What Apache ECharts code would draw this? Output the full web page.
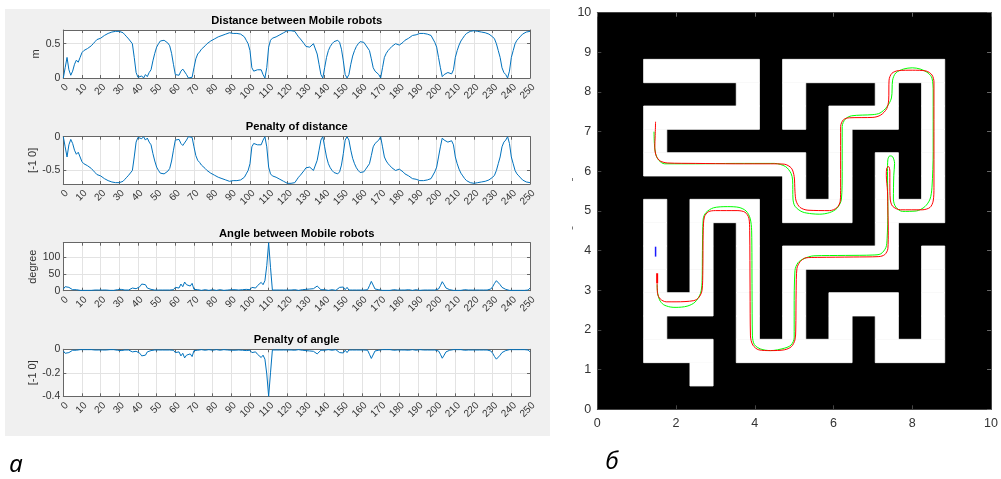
<!DOCTYPE html>
<html>
<head>
<meta charset="utf-8">
<script src="https://cdn.jsdelivr.net/npm/echarts@6/dist/echarts.min.js"></script>
<style>
html, body { margin: 0; padding: 0; background: #fff; }
#main { width: 1001px; height: 479px; }
</style>
</head>
<body>
<div id="main"></div>
<script>
// left panel: one value per step, step index 0..250
const distance = [
  0,0.15,0.30,0.12,0.04,0.10,0.20,0.26,0.23,0.30,
  0.37,0.40,0.42,0.43,0.44,0.47,0.50,0.53,0.56,0.57,
  0.58,0.60,0.62,0.63,0.65,0.66,0.67,0.68,0.68,0.69,
  0.68,0.68,0.66,0.63,0.60,0.57,0.55,0.50,0.30,0.08,
  0.01,0,0.03,0,0.05,0.02,0.08,0.12,0.25,0.36,
  0.45,0.50,0.54,0.56,0.55,0.53,0.51,0.47,0.36,0.20,
  0.05,0.06,0.04,0.10,0.13,0.11,0.05,0,0,0.01,
  0.15,0.28,0.35,0.38,0.42,0.44,0.47,0.50,0.52,0.54,
  0.56,0.57,0.59,0.60,0.61,0.62,0.63,0.64,0.65,0.66,
  0.66,0.65,0.66,0.65,0.65,0.64,0.62,0.60,0.55,0.50,
  0.40,0.15,0.10,0.08,0.12,0.10,0.12,0.05,0,0.15,
  0.45,0.55,0.58,0.59,0.60,0.62,0.63,0.65,0.66,0.68,
  0.69,0.69,0.69,0.68,0.68,0.64,0.60,0.57,0.55,0.50,
  0.46,0.45,0.45,0.47,0.50,0.52,0.35,0.20,0.05,0,
  0.15,0.30,0.40,0.46,0.50,0.53,0.55,0.55,0.52,0.42,
  0.25,0.05,0,0.05,0.20,0.32,0.40,0.46,0.50,0.53,
  0.55,0.52,0.48,0.50,0.40,0.28,0.15,0.10,0.12,0.05,
  0,0.15,0.30,0.36,0.40,0.43,0.46,0.48,0.50,0.49,
  0.48,0.50,0.52,0.55,0.57,0.58,0.60,0.62,0.63,0.63,
  0.64,0.65,0.64,0.65,0.64,0.64,0.63,0.62,0.60,0.52,
  0.45,0.30,0.15,0.02,0.05,0.03,0.08,0.06,0.06,0.12,
  0.30,0.40,0.48,0.54,0.58,0.62,0.65,0.67,0.68,0.69,
  0.69,0.68,0.68,0.68,0.67,0.67,0.66,0.65,0.64,0.62,
  0.60,0.57,0.50,0.40,0.30,0.15,0.08,0.05,0,0.10,
  0.30,0.40,0.50,0.55,0.58,0.61,0.64,0.66,0.67,0.68,
  0.68
];

const penaltyDistance = [
  0,-0.15,-0.30,-0.12,-0.04,-0.10,-0.20,-0.26,-0.23,-0.30,
  -0.37,-0.40,-0.42,-0.43,-0.44,-0.47,-0.50,-0.53,-0.56,-0.57,
  -0.58,-0.60,-0.62,-0.63,-0.65,-0.66,-0.67,-0.68,-0.68,-0.69,
  -0.68,-0.68,-0.66,-0.63,-0.60,-0.57,-0.55,-0.50,-0.30,-0.08,
  -0.01,0,-0.03,0,-0.05,-0.02,-0.08,-0.12,-0.25,-0.36,
  -0.45,-0.50,-0.54,-0.56,-0.55,-0.53,-0.51,-0.47,-0.36,-0.20,
  -0.05,-0.06,-0.04,-0.10,-0.13,-0.11,-0.05,0,0,-0.01,
  -0.15,-0.28,-0.35,-0.38,-0.42,-0.44,-0.47,-0.50,-0.52,-0.54,
  -0.56,-0.57,-0.59,-0.60,-0.61,-0.62,-0.63,-0.64,-0.65,-0.66,
  -0.66,-0.65,-0.66,-0.65,-0.65,-0.64,-0.62,-0.60,-0.55,-0.50,
  -0.40,-0.15,-0.10,-0.08,-0.12,-0.10,-0.12,-0.05,0,-0.15,
  -0.45,-0.55,-0.58,-0.59,-0.60,-0.62,-0.63,-0.65,-0.66,-0.68,
  -0.69,-0.69,-0.69,-0.68,-0.68,-0.64,-0.60,-0.57,-0.55,-0.50,
  -0.46,-0.45,-0.45,-0.47,-0.50,-0.52,-0.35,-0.20,-0.05,0,
  -0.15,-0.30,-0.40,-0.46,-0.50,-0.53,-0.55,-0.55,-0.52,-0.42,
  -0.25,-0.05,0,-0.05,-0.20,-0.32,-0.40,-0.46,-0.50,-0.53,
  -0.55,-0.52,-0.48,-0.50,-0.40,-0.28,-0.15,-0.10,-0.12,-0.05,
  0,-0.15,-0.30,-0.36,-0.40,-0.43,-0.46,-0.48,-0.50,-0.49,
  -0.48,-0.50,-0.52,-0.55,-0.57,-0.58,-0.60,-0.62,-0.63,-0.63,
  -0.64,-0.65,-0.64,-0.65,-0.64,-0.64,-0.63,-0.62,-0.60,-0.52,
  -0.45,-0.30,-0.15,-0.02,-0.05,-0.03,-0.08,-0.06,-0.06,-0.12,
  -0.30,-0.40,-0.48,-0.54,-0.58,-0.62,-0.65,-0.67,-0.68,-0.69,
  -0.69,-0.68,-0.68,-0.68,-0.67,-0.67,-0.66,-0.65,-0.64,-0.62,
  -0.60,-0.57,-0.50,-0.40,-0.30,-0.15,-0.08,-0.05,0,-0.10,
  -0.30,-0.40,-0.50,-0.55,-0.58,-0.61,-0.64,-0.66,-0.67,-0.68,
  -0.68
];

const angle = [
  5,12,7,10,14,3,2,3,2,1,
  2,1,2,1,2,1,1,2,1,2,
  1,2,1,2,3,1,2,1,2,3,
  2,4,3,2,3,2,1,8,10,6,
  9,12,20,25,18,8,12,4,3,2,
  3,2,4,2,3,2,3,2,4,3,
  10,16,8,20,12,26,18,21,14,22,
  4,2,3,2,1,2,3,2,1,2,
  3,2,1,2,3,2,1,3,2,4,
  3,5,3,4,2,5,3,2,4,2,
  3,10,12,8,15,11,25,18,30,75,
  144,70,2,1,2,1,2,1,2,1,
  2,1,2,1,3,2,1,2,3,2,
  4,2,5,3,6,10,14,8,3,2,
  3,2,1,2,3,2,1,3,10,4,
  11,3,10,2,1,2,1,2,1,2,
  1,2,1,3,15,28,25,5,10,3,
  2,1,2,1,2,1,2,3,1,2,
  1,2,1,2,1,3,2,1,2,3,
  2,1,3,2,1,2,3,2,1,2,
  2,5,15,27,18,8,14,3,2,1,
  2,1,2,1,2,3,1,2,1,2,
  1,2,1,2,1,2,1,2,1,5,
  12,22,30,25,18,10,12,4,2,1,
  2,1,2,1,2,1,2,1,1,2,
  8
];

const penaltyAngle = [
  -0.014,-0.034,-0.02,-0.028,-0.039,-0.008,-0.006,-0.008,-0.006,-0.003,
  -0.006,-0.003,-0.006,-0.003,-0.006,-0.003,-0.003,-0.006,-0.003,-0.006,
  -0.003,-0.006,-0.003,-0.006,-0.008,-0.003,-0.006,-0.003,-0.006,-0.008,
  -0.006,-0.011,-0.008,-0.006,-0.008,-0.006,-0.003,-0.022,-0.028,-0.017,
  -0.025,-0.034,-0.056,-0.07,-0.05,-0.022,-0.034,-0.011,-0.008,-0.006,
  -0.008,-0.006,-0.011,-0.006,-0.008,-0.006,-0.008,-0.006,-0.011,-0.008,
  -0.028,-0.045,-0.022,-0.056,-0.034,-0.073,-0.05,-0.059,-0.039,-0.062,
  -0.011,-0.006,-0.008,-0.006,-0.003,-0.006,-0.008,-0.006,-0.003,-0.006,
  -0.008,-0.006,-0.003,-0.006,-0.008,-0.006,-0.003,-0.008,-0.006,-0.011,
  -0.008,-0.014,-0.008,-0.011,-0.006,-0.014,-0.008,-0.006,-0.011,-0.006,
  -0.008,-0.028,-0.034,-0.022,-0.042,-0.031,-0.07,-0.05,-0.084,-0.21,
  -0.4,-0.2,-0.006,-0.003,-0.006,-0.003,-0.006,-0.003,-0.006,-0.003,
  -0.006,-0.003,-0.006,-0.003,-0.008,-0.006,-0.003,-0.006,-0.008,-0.006,
  -0.011,-0.006,-0.014,-0.008,-0.017,-0.028,-0.039,-0.022,-0.008,-0.006,
  -0.008,-0.006,-0.003,-0.006,-0.008,-0.006,-0.003,-0.008,-0.028,-0.011,
  -0.031,-0.008,-0.028,-0.006,-0.003,-0.006,-0.003,-0.006,-0.003,-0.006,
  -0.003,-0.006,-0.003,-0.008,-0.042,-0.078,-0.07,-0.014,-0.028,-0.008,
  -0.006,-0.003,-0.006,-0.003,-0.006,-0.003,-0.006,-0.008,-0.003,-0.006,
  -0.003,-0.006,-0.003,-0.006,-0.003,-0.008,-0.006,-0.003,-0.006,-0.008,
  -0.006,-0.003,-0.008,-0.006,-0.003,-0.006,-0.008,-0.006,-0.003,-0.006,
  -0.006,-0.014,-0.042,-0.076,-0.05,-0.022,-0.039,-0.008,-0.006,-0.003,
  -0.006,-0.003,-0.006,-0.003,-0.006,-0.008,-0.003,-0.006,-0.003,-0.006,
  -0.003,-0.006,-0.003,-0.006,-0.003,-0.006,-0.003,-0.006,-0.003,-0.014,
  -0.034,-0.062,-0.084,-0.07,-0.05,-0.028,-0.034,-0.011,-0.006,-0.003,
  -0.006,-0.003,-0.006,-0.003,-0.006,-0.003,-0.006,-0.003,-0.003,-0.006,
  -0.022
];

// maze: 17 x 17 cells over 0..10, top row first, '.' = free
const maze = [
  '#################',
  '#################',
  '##.....#.......##',
  '######.#.###.#.##',
  '##.....#.#...#.##',
  '##.#######.###.##',
  '##.......#.#.#.##',
  '########.#.#.#.##',
  '##.#...#...#...##',
  '##.#.#.#####.####',
  '##.#.#.#.....#.##',
  '##.#.#.#.#####.##',
  '##...#.#.#...#.##',
  '##.###.#.#.#.#.##',
  '##...#.....#...##',
  '####.############',
  '#################'
];

const redPath = [
  [1.48,7.25],[1.47,6.9],[1.46,6.6],[1.50,6.38],[1.60,6.26],[1.79,6.21],[2.5,6.20],[3.5,6.19],
  [4.4,6.19],[4.75,6.18],[4.93,6.08],[5.0,5.87],[5.02,5.5],[5.05,5.25],[5.15,5.09],[5.35,5.02],
  [5.9,5.01],[6.08,5.08],[6.17,5.25],[6.18,5.6],[6.18,6.5],[6.18,7.13],[6.25,7.30],[6.40,7.35],
  [7.0,7.36],[7.20,7.42],[7.35,7.58],[7.40,7.8],[7.41,8.30],[7.48,8.47],[7.65,8.54],[8.0,8.55],
  [8.35,8.53],[8.50,8.43],[8.55,8.25],[8.55,7.0],[8.55,5.6],[8.53,5.25],[8.45,5.09],[8.25,5.03],
  [7.70,5.03],[7.50,5.12],[7.44,5.30],[7.43,5.7],[7.43,6.0],[7.40,6.12],[7.35,6.08],[7.34,5.9],
  [7.37,5.5],[7.38,5.0],[7.39,4.5],[7.38,4.05],[7.30,3.90],[7.15,3.85],[6.5,3.84],[5.6,3.83],
  [5.30,3.82],[5.15,3.72],[5.07,3.55],[5.05,3.0],[5.04,2.0],[5.02,1.75],[4.93,1.58],[4.75,1.50],
  [4.4,1.48],[4.10,1.50],[3.95,1.62],[3.89,1.85],[3.88,3.0],[3.87,4.5],[3.85,4.82],[3.75,4.97],
  [3.55,5.01],[3.0,5.01],[2.82,4.98],[2.72,4.85],[2.69,4.5],[2.68,3.5],[2.66,3.0],[2.58,2.82],
  [2.45,2.74],[2.0,2.71],[1.75,2.71],[1.60,2.78],[1.53,2.92],[1.52,3.18]
];

const greenPath = [
  [1.44,7.0],[1.45,6.7],[1.48,6.45],[1.56,6.28],[1.71,6.19],[2.5,6.19],[3.5,6.2],[4.5,6.2],
  [4.78,6.12],[4.92,5.95],[4.96,5.78],[4.97,5.3],[5.02,5.12],[5.2,4.98],[5.45,4.93],[5.65,4.92],
  [5.9,4.96],[6.09,5.07],[6.2,5.3],[6.22,6.0],[6.22,7.13],[6.3,7.32],[6.46,7.40],[7.0,7.43],
  [7.18,7.47],[7.35,7.62],[7.47,7.85],[7.50,8.30],[7.58,8.48],[7.78,8.58],[8.0,8.61],[8.2,8.58],
  [8.40,8.48],[8.50,8.35],[8.53,8.0],[8.53,6.5],[8.5,5.6],[8.45,5.3],[8.32,5.11],[8.1,5.0],
  [7.75,4.99],[7.58,5.1],[7.52,5.3],[7.53,5.9],[7.55,6.2],[7.50,6.37],[7.43,6.39],[7.38,6.3],
  [7.37,6.0],[7.38,5.0],[7.36,4.3],[7.33,4.08],[7.2,3.92],[7.0,3.89],[6.3,3.88],[5.5,3.87],
  [5.25,3.80],[5.1,3.70],[5.02,3.5],[5.0,2.5],[5.0,1.8],[4.92,1.62],[4.75,1.54],[4.4,1.48],
  [4.15,1.52],[3.99,1.63],[3.94,1.85],[3.93,3.0],[3.92,4.5],[3.88,4.82],[3.78,5.0],[3.6,5.09],
  [3.3,5.11],[2.95,5.08],[2.76,4.96],[2.69,4.8],[2.67,4.0],[2.66,3.2],[2.62,2.92],[2.48,2.70],
  [2.28,2.60],[2.0,2.57],[1.85,2.58],[1.68,2.64],[1.58,2.76],[1.53,2.95],[1.52,3.15]
];

const blueMark = [[1.48,3.85],[1.48,4.10]];
const redMark = [[1.52,3.18],[1.52,3.43]];

const titles = [
  'Distance between Mobile robots',
  'Penalty of distance',
  'Angle between Mobile robots',
  'Penalty of angle'
];
const yNames = ['m', '[-1 0]', 'degree', '[-1 0]'];
const yTicks = [[0, 0.5], [-0.5, 0], [0, 50, 100], [-0.4, -0.2, 0]];
const yRanges = [[0, 0.7], [-0.7, 0], [0, 144], [-0.4, 0]];
const leftSeries = [distance, penaltyDistance, angle, penaltyAngle];

const FONT = '"Liberation Sans", Arial, Helvetica, sans-serif';
const AX = '#666';
const LABEL = '#333';

const leftBoxes = [
  { top: 30, height: 48, titleY: 20.5, nameGap: 18 },
  { top: 136.7, height: 47.3, titleY: 127, nameGap: 24 },
  { top: 242.7, height: 48, titleY: 233.5, nameGap: 24 },
  { top: 349.3, height: 47, titleY: 339.5, nameGap: 24 }
];

const chart = echarts.init(document.getElementById('main'), null, { renderer: 'canvas' });

const grid = [];
const xAxis = [];
const yAxis = [];
const series = [];
const graphic = [
  { type: 'rect', z: -100, shape: { x: 5, y: 9, width: 545, height: 427 }, style: { fill: '#f0f0f0' } }
];

leftBoxes.forEach((b, i) => {
  grid.push({ left: 63.3, top: b.top, width: 466.7, height: b.height, show: true, backgroundColor: '#fff', borderWidth: 0 });
  xAxis.push({
    type: 'value', gridIndex: i, min: 0, max: 250, interval: 10,
    axisLine: { onZero: false, lineStyle: { color: AX, width: 1 } },
    axisTick: { inside: true, length: 3, lineStyle: { color: AX } },
    axisLabel: { rotate: 45, margin: 4, verticalAlign: 'top', fontSize: 10, color: LABEL, fontFamily: FONT },
    splitLine: { show: true, lineStyle: { color: '#e3e3e3', width: 1 } }
  });
  yAxis.push({
    type: 'value', gridIndex: i, min: yRanges[i][0], max: yRanges[i][1],
    name: yNames[i], nameLocation: 'middle', nameGap: b.nameGap,
    nameTextStyle: { fontSize: 11, color: LABEL, fontFamily: FONT },
    axisLine: { onZero: false, lineStyle: { color: AX, width: 1 } },
    axisTick: { inside: true, length: 3, lineStyle: { color: AX }, customValues: yTicks[i] },
    axisLabel: { margin: 3, fontSize: 10.5, color: LABEL, fontFamily: FONT, customValues: yTicks[i] },
    splitLine: { show: true, lineStyle: { color: '#e3e3e3', width: 1 } }
  });
  graphic.push({
    type: 'text', x: 296.7, y: b.titleY,
    style: { text: titles[i], font: 'bold 11.2px ' + FONT, fill: '#000', align: 'center', verticalAlign: 'middle' }
  });
  series.push({
    type: 'line', xAxisIndex: i, yAxisIndex: i, showSymbol: false, silent: true,
    lineStyle: { color: '#0072BD', width: 1 },
    data: leftSeries[i].map((v, k) => [k, v])
  });
});
// box tops / rights with inner ticks
leftBoxes.forEach((b, i) => {
  xAxis.push({
    type: 'value', gridIndex: i, position: 'top', min: 0, max: 250, interval: 10,
    axisLine: { onZero: false, lineStyle: { color: AX, width: 1 } },
    axisTick: { inside: true, length: 3, lineStyle: { color: AX } },
    axisLabel: { show: false }, splitLine: { show: false }
  });
  yAxis.push({
    type: 'value', gridIndex: i, position: 'right', min: yRanges[i][0], max: yRanges[i][1],
    axisLine: { onZero: false, lineStyle: { color: AX, width: 1 } },
    axisTick: { inside: true, length: 3, lineStyle: { color: AX }, customValues: yTicks[i] },
    axisLabel: { show: false }, splitLine: { show: false }
  });
});

// maze plot (grid 4)
grid.push({ left: 597.3, top: 12.7, width: 395.7, height: 396.6, show: true, backgroundColor: '#000', borderWidth: 0 });
xAxis.push({
  type: 'value', gridIndex: 4, min: 0, max: 10, interval: 2,
  axisLine: { onZero: false, lineStyle: { color: '#444', width: 1 } },
  axisTick: { inside: true, length: 4, lineStyle: { color: '#444' } },
  axisLabel: { margin: 8, fontSize: 12.5, color: LABEL, fontFamily: FONT },
  splitLine: { show: false }
});
xAxis.push({
  type: 'value', gridIndex: 4, position: 'top', min: 0, max: 10, interval: 2,
  axisLine: { onZero: false, lineStyle: { color: '#444', width: 1 } },
  axisTick: { inside: true, length: 4, lineStyle: { color: '#666' } },
  axisLabel: { show: false }, splitLine: { show: false }
});
yAxis.push({
  type: 'value', gridIndex: 4, min: 0, max: 10, interval: 1,
  axisLine: { onZero: false, lineStyle: { color: '#444', width: 1 } },
  axisTick: { inside: true, length: 4, lineStyle: { color: '#444' } },
  axisLabel: { margin: 6, fontSize: 12.5, color: LABEL, fontFamily: FONT },
  splitLine: { show: false }
});
yAxis.push({
  type: 'value', gridIndex: 4, position: 'right', min: 0, max: 10, interval: 1,
  axisLine: { onZero: false, lineStyle: { color: '#444', width: 1 } },
  axisTick: { inside: true, length: 4, lineStyle: { color: '#666' } },
  axisLabel: { show: false }, splitLine: { show: false }
});

// free cells -> horizontal runs [x0, y0, x1, y1]
const cell = 10 / maze.length;
const mazeRuns = [];
maze.forEach((row, r) => {
  const yTop = 10 - r * cell;
  let c = 0;
  while (c < row.length) {
    if (row[c] === '.') {
      let e = c;
      while (e + 1 < row.length && row[e + 1] === '.') e++;
      mazeRuns.push([c * cell, yTop - cell, (e + 1) * cell, yTop]);
      c = e + 1;
    } else {
      c++;
    }
  }
});

series.push({
  type: 'custom', xAxisIndex: 8, yAxisIndex: 8, silent: true,
  encode: { x: [0, 2], y: [1, 3] },
  renderItem: function (params, api) {
    const p0 = api.coord([api.value(0), api.value(3)]);
    const p1 = api.coord([api.value(2), api.value(1)]);
    return {
      type: 'rect',
      shape: { x: p0[0], y: p0[1], width: p1[0] - p0[0], height: p1[1] - p0[1] },
      style: { fill: '#fff', stroke: '#fff', lineWidth: 0.8 }
    };
  },
  data: mazeRuns
});
series.push({
  type: 'line', xAxisIndex: 8, yAxisIndex: 8, showSymbol: false, silent: true, smooth: 0.3,
  lineStyle: { color: '#00ff00', width: 1 }, data: greenPath, z: 3
});
series.push({
  type: 'line', xAxisIndex: 8, yAxisIndex: 8, showSymbol: false, silent: true, smooth: 0.3,
  lineStyle: { color: '#ff0000', width: 1 }, data: redPath, z: 4
});
series.push({
  type: 'line', xAxisIndex: 8, yAxisIndex: 8, showSymbol: false, silent: true,
  lineStyle: { color: '#1a1aff', width: 1.5 }, data: blueMark, z: 5
});
series.push({
  type: 'line', xAxisIndex: 8, yAxisIndex: 8, showSymbol: false, silent: true,
  lineStyle: { color: '#ff0000', width: 2 }, data: redMark, z: 5
});

// stray marks left of the maze axis
graphic.push({ type: 'rect', shape: { x: 572, y: 178, width: 1, height: 3 }, style: { fill: '#777' } });
graphic.push({ type: 'rect', shape: { x: 572, y: 226.5, width: 1, height: 3 }, style: { fill: '#777' } });

graphic.push({ type: 'text', x: 16, y: 465, style: { text: 'а', font: 'italic 24px "Noto Sans", "Open Sans", sans-serif', fill: '#000', align: 'center', verticalAlign: 'middle' } });
graphic.push({ type: 'text', x: 612, y: 462, style: { text: 'б', font: 'italic 24px "Noto Sans", "Open Sans", sans-serif', fill: '#000', align: 'center', verticalAlign: 'middle' } });

chart.setOption({
  animation: false,
  backgroundColor: '#fff',
  grid: grid,
  xAxis: xAxis,
  yAxis: yAxis,
  graphic: graphic,
  series: series
});
</script>
</body>
</html>
